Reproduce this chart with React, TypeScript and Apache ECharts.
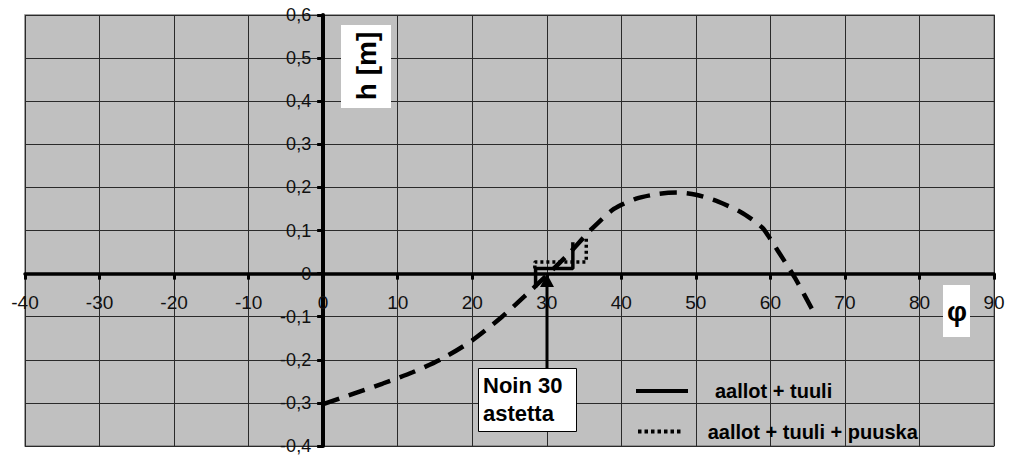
import React, { useEffect, useRef } from 'react';
import * as echarts from 'echarts';

// h(φ) curve (dashed, not in legend)
const curveData: [number, number][] = [
  [0, -0.303], [4, -0.279], [8, -0.255], [12, -0.229], [16, -0.197], [20, -0.155],
  [24, -0.1], [27, -0.053], [30, -0.004], [33, 0.047], [36, 0.103], [39, 0.15],
  [42, 0.174], [45, 0.185], [47.5, 0.188], [50, 0.183], [53, 0.167], [56, 0.143],
  [58, 0.12], [59, 0.105], [60, 0.08], [61, 0.053], [63.3, -0.01], [66, -0.096],
];
// aallot + tuuli
const windData: [number, number][] = [
  [28.5, -0.033], [28.5, 0.012], [33.5, 0.012], [33.5, 0.073],
];
// aallot + tuuli + puuska
const gustData: [number, number][] = [
  [28.4, 0.012], [28.4, 0.027], [35.3, 0.027], [35.3, 0.083],
];

const legendNames = ['aallot + tuuli', 'aallot + tuuli + puuska'];
const curveName = 'h(φ)';
const xMin = -40;
const xMax = 90;
const xStep = 10;
const yMin = -0.4;
const yMax = 0.6;
const yStep = 0.1;
const yAxisTitle = 'h [m]';
const xAxisTitle = 'φ';
const annotationLines = ['Noin 30', 'astetta'];

const FONT = '"Liberation Sans", Arial, sans-serif';
const W = 1014;
const H = 455;
const GRID = { left: 25, right: 20, top: 15, bottom: 9 };

const fmtY = (v: number) => String(Math.round(v * 10) / 10).replace('.', ',');
const fmtX = (v: number) => String(Math.round(v));

const solidIcon = 'path://M0,0H52V4H0Z';
const dottedIcon =
  'path://M0,0h3.5v4h-3.5z M6.5,0h3.5v4h-3.5z M13,0h3.5v4h-3.5z M19.5,0h3.5v4h-3.5z M26,0h3.5v4h-3.5z M32.5,0h3.5v4h-3.5z M39,0h3.5v4h-3.5z';

export default function App() {
  const ref = useRef<HTMLDivElement>(null);

  useEffect(() => {
    if (!ref.current) return;
    const chart = echarts.init(ref.current, undefined, { renderer: 'svg' });
    const gw = W - GRID.left - GRID.right;
    const gh = H - GRID.top - GRID.bottom;
    // move axes to the zero lines (axis line, ticks and labels together)
    const xAxisOffset = -((0 - yMin) / (yMax - yMin)) * gh;
    const yAxisOffset = -((0 - xMin) / (xMax - xMin)) * gw;

    const option: any = {
      animation: false,
      backgroundColor: '#ffffff',
      textStyle: { fontFamily: FONT },
      grid: {
        ...GRID,
        show: true,
        backgroundColor: '#c0c0c0',
        borderColor: '#808080',
        borderWidth: 1.5,
        containLabel: false,
        outerBoundsMode: 'none',
      },
      xAxis: {
        type: 'value',
        position: 'bottom',
        offset: xAxisOffset,
        min: xMin,
        max: xMax,
        interval: xStep,
        axisLine: { show: true, onZero: false, lineStyle: { color: '#000', width: 3.5 } },
        axisTick: { show: true, inside: false, length: 6, lineStyle: { color: '#000', width: 3 } },
        axisLabel: {
          formatter: fmtX,
          color: '#111',
          fontSize: 19,
          fontFamily: FONT,
          margin: 19,
          hideOverlap: false,
        },
        splitLine: { show: true, lineStyle: { color: '#2a2a2a', width: 1 } },
      },
      yAxis: {
        type: 'value',
        position: 'left',
        offset: yAxisOffset,
        min: yMin,
        max: yMax,
        interval: yStep,
        axisLine: { show: true, onZero: false, lineStyle: { color: '#000', width: 4 } },
        axisTick: { show: true, inside: false, length: 6, lineStyle: { color: '#000', width: 3 } },
        axisLabel: {
          formatter: fmtY,
          color: '#111',
          fontSize: 18,
          fontFamily: FONT,
          margin: 12,
          hideOverlap: false,
        },
        splitLine: { show: true, lineStyle: { color: '#2a2a2a', width: 1 } },
      },
      legend: [
        {
          data: [{ name: legendNames[0], icon: solidIcon }],
          left: 636,
          top: 381,
          padding: 0,
          itemWidth: 52,
          itemHeight: 4,
          selectedMode: false,
          textStyle: {
            fontSize: 20,
            fontWeight: 'bold',
            color: '#000',
            fontFamily: FONT,
            padding: [0, 0, 0, 22],
          },
        },
        {
          data: [{ name: legendNames[1], icon: dottedIcon }],
          left: 638,
          top: 421.5,
          padding: 0,
          itemWidth: 45,
          itemHeight: 4,
          selectedMode: false,
          textStyle: {
            fontSize: 20,
            fontWeight: 'bold',
            color: '#000',
            fontFamily: FONT,
            padding: [0, 0, 0, 21],
          },
        },
      ],
      series: [
        {
          type: 'line',
          name: curveName,
          data: curveData,
          symbol: 'none',
          showSymbol: false,
          smooth: 0.25,
          lineStyle: { color: '#000', width: 4.5, type: [17, 10] },
          itemStyle: { color: '#000' },
          z: 3,
        },
        {
          type: 'line',
          name: legendNames[0],
          data: windData,
          symbol: 'none',
          showSymbol: false,
          lineStyle: { color: '#000', width: 3.5, type: 'solid' },
          itemStyle: { color: '#000' },
          z: 4,
        },
        {
          type: 'line',
          name: legendNames[1],
          data: gustData,
          symbol: 'none',
          showSymbol: false,
          lineStyle: { color: '#000', width: 3.5, type: [3, 3] },
          itemStyle: { color: '#000' },
          z: 4,
        },
      ],
      graphic: [
        {
          type: 'rect',
          z: 100,
          shape: { x: 341, y: 25, width: 50, height: 83 },
          style: { fill: '#fff' },
        },
        {
          type: 'text',
          z: 101,
          x: 366,
          y: 66,
          rotation: Math.PI / 2,
          style: {
            text: yAxisTitle,
            font: `bold 28px ${FONT}`,
            fill: '#000',
            align: 'center',
            verticalAlign: 'middle',
          },
        },
        {
          type: 'rect',
          z: 100,
          shape: { x: 943, y: 285, width: 27, height: 52 },
          style: { fill: '#fff' },
        },
        {
          type: 'text',
          z: 101,
          x: 957,
          y: 311,
          style: {
            text: xAxisTitle,
            font: `bold 28px ${FONT}`,
            fill: '#000',
            align: 'center',
            verticalAlign: 'middle',
          },
        },
        {
          type: 'line',
          z: 100,
          shape: { x1: 547, y1: 369, x2: 547, y2: 284 },
          style: { stroke: '#000', lineWidth: 3 },
        },
        {
          type: 'polygon',
          z: 100,
          shape: { points: [[547, 274], [540, 287], [554, 287]] },
          style: { fill: '#000' },
        },
        {
          type: 'rect',
          z: 100,
          shape: { x: 478.5, y: 368.5, width: 98, height: 63 },
          style: { fill: '#fff', stroke: '#000', lineWidth: 1 },
        },
        {
          type: 'text',
          z: 101,
          x: 483,
          y: 371,
          style: {
            text: annotationLines.join('\n'),
            font: `bold 22px ${FONT}`,
            lineHeight: 28,
            fill: '#000',
            align: 'left',
            verticalAlign: 'top',
          },
        },
      ],
    };
    chart.setOption(option);
    return () => {
      chart.dispose();
    };
  }, []);

  return (
    <div
      ref={ref}
      style={{ position: 'fixed', left: 0, top: 0, width: W, height: H, background: '#fff' }}
    />
  );
}
